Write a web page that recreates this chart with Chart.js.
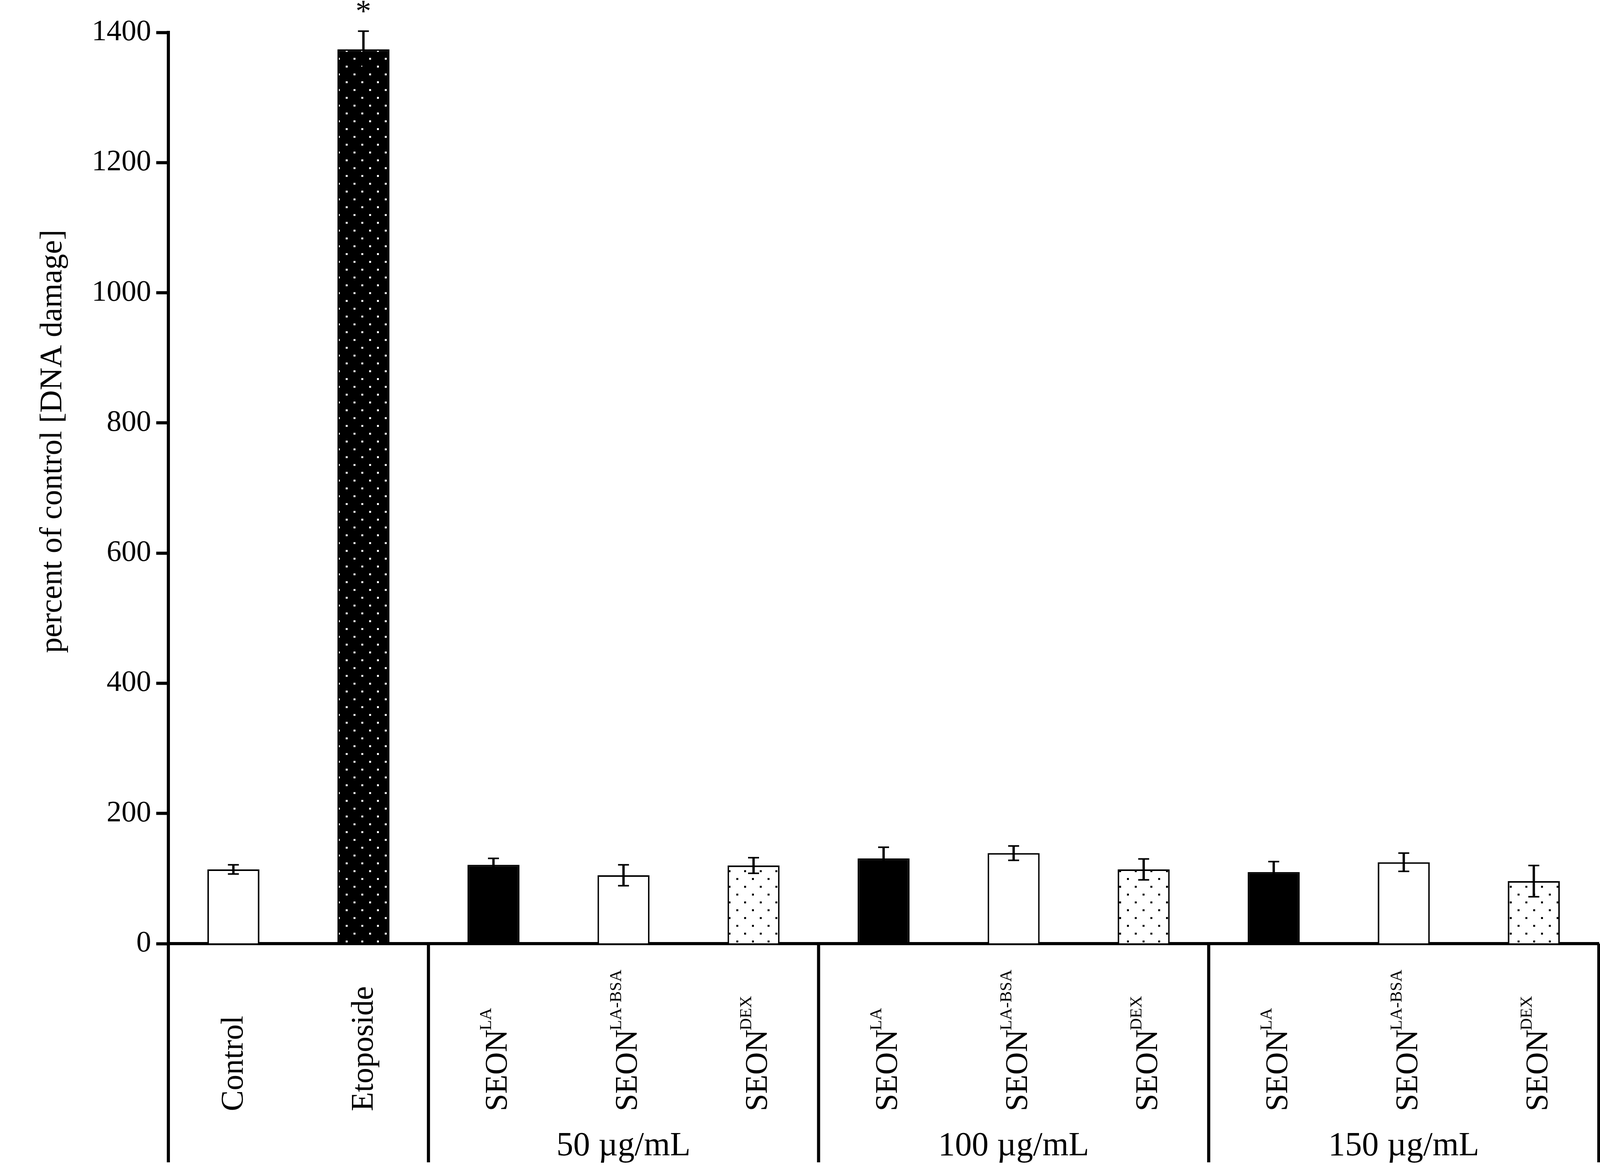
<!DOCTYPE html>
<html>
<head>
<meta charset="utf-8">
<script src="https://cdn.jsdelivr.net/npm/chart.js@4.4.1/dist/chart.umd.min.js"></script>
<style>
html,body{margin:0;padding:0;background:#fff;}
#wrap{width:4168px;height:3011px;position:relative;background:#fff;}
</style>
</head>
<body>
<div id="wrap"><canvas id="c"></canvas></div>
<script>
// ---------- data ----------
const categories = ["Control","Etoposide","SEON LA 50","SEON LA-BSA 50","SEON DEX 50","SEON LA 100","SEON LA-BSA 100","SEON DEX 100","SEON LA 150","SEON LA-BSA 150","SEON DEX 150"];
const labelMain = ["Control","Etoposide","SEON","SEON","SEON","SEON","SEON","SEON","SEON","SEON","SEON"];
const labelSup  = ["","","LA","LA-BSA","DEX","LA","LA-BSA","DEX","LA","LA-BSA","DEX"];
const values = [114,1374,121,105,120,131,139,114,110,125,96];
const errors = [7,28,10,16,12,17,11,16,16,14,24];
const significance = ["","*","","","","","","","","",""];
const fillKinds = ["white","blackDots","black","white","whiteDots","black","white","whiteDots","black","white","whiteDots"];
const groupLabels = ["50 µg/mL","100 µg/mL","150 µg/mL"];
const groupFirst = [2,5,8];
const groupLast  = [4,7,10];
const dividerBounds = [0,2,5,8,11];
const yTicks = [0,200,400,600,800,1000,1200,1400];
const yTickLabels = ["0","200","400","600","800","1000","1200","1400"];
const yTitle = "percent of control [DNA damage]";

// ---------- styling helpers ----------
const FONT = '"Liberation Serif","Times New Roman",Times,serif';

function makePattern(bg, fg){
  const c = document.createElement('canvas');
  c.width = 40; c.height = 40;
  const g = c.getContext('2d');
  g.fillStyle = bg; g.fillRect(0,0,40,40);
  g.fillStyle = fg;
  g.fillRect(5,8,5,5);
  g.fillRect(25,28,5,5);
  return g.createPattern(c,'repeat');
}
const patterns = {
  white: '#ffffff',
  black: '#000000',
  blackDots: makePattern('#000000','#ffffff'),
  whiteDots: makePattern('#ffffff','#000000')
};

function boundaryPixel(xs, b){
  if (b <= 0) return xs.left;
  if (b >= categories.length) return xs.right;
  return (xs.getPixelForValue(b-1) + xs.getPixelForValue(b)) / 2;
}

const decor = {
  id: 'decor',
  afterDatasetsDraw(chart){
    const ctx = chart.ctx, xs = chart.scales.x, ys = chart.scales.y;
    ctx.save();
    ctx.strokeStyle = '#000'; ctx.fillStyle = '#000';
    ctx.lineCap = 'butt';
    values.forEach((v,i)=>{
      const px = xs.getPixelForValue(i);
      const top = ys.getPixelForValue(v + errors[i]);
      const bot = ys.getPixelForValue(v - errors[i]);
      ctx.lineWidth = 6;
      ctx.beginPath(); ctx.moveTo(px, top); ctx.lineTo(px, bot); ctx.stroke();
      ctx.lineWidth = 4;
      ctx.beginPath();
      ctx.moveTo(px-14, top); ctx.lineTo(px+14, top);
      ctx.moveTo(px-14, bot); ctx.lineTo(px+14, bot);
      ctx.stroke();
      if (significance[i]) {
        ctx.font = '80px ' + FONT;
        ctx.textAlign = 'center';
        ctx.textBaseline = 'alphabetic';
        ctx.fillText(significance[i], px, top - 25);
      }
    });
    ctx.restore();
  },
  afterDraw(chart){
    const ctx = chart.ctx, xs = chart.scales.x, ys = chart.scales.y;
    ctx.save();
    ctx.strokeStyle = '#000'; ctx.fillStyle = '#000';
    // group divider lines below the axis
    ctx.lineWidth = 8;
    dividerBounds.forEach(b=>{
      const bx = boundaryPixel(xs, b);
      ctx.beginPath(); ctx.moveTo(bx, ys.bottom); ctx.lineTo(bx, 2976); ctx.stroke();
    });
    // category labels (rotated)
    ctx.textAlign = 'left'; ctx.textBaseline = 'alphabetic';
    labelMain.forEach((m,i)=>{
      const px = xs.getPixelForValue(i);
      const sup = labelSup[i];
      const off = sup ? 34 : 24;
      ctx.save();
      ctx.translate(px + off, 2845);
      ctx.rotate(-Math.PI/2);
      ctx.font = '80px ' + FONT;
      ctx.fillText(m, 0, 0);
      if (sup) {
        const w = ctx.measureText(m).width;
        ctx.font = '43px ' + FONT;
        ctx.fillText(sup, w - 2, -40);
      }
      ctx.restore();
    });
    // group labels
    ctx.font = '86px ' + FONT;
    ctx.textAlign = 'center';
    groupLabels.forEach((g,k)=>{
      const cx = (xs.getPixelForValue(groupFirst[k]) + xs.getPixelForValue(groupLast[k])) / 2;
      ctx.fillText(g, cx, 2958);
    });
    // y axis title
    ctx.save();
    ctx.translate(157, 1130);
    ctx.rotate(-Math.PI/2);
    ctx.font = '80px ' + FONT;
    ctx.textAlign = 'center';
    ctx.fillText(yTitle, 0, 0);
    ctx.restore();
    ctx.restore();
  }
};

new Chart(document.getElementById('c'), {
  type: 'bar',
  data: {
    labels: categories,
    datasets: [{
      data: values,
      backgroundColor: fillKinds.map(k => patterns[k]),
      borderColor: '#000',
      borderWidth: 4,
      barPercentage: 0.4,
      categoryPercentage: 1.0
    }]
  },
  options: {
    responsive: true,
    maintainAspectRatio: false,
    animation: false,
    devicePixelRatio: 1,
    layout: { padding: { top: 83, right: 75, left: 0, bottom: 0 } },
    plugins: { legend: { display: false }, tooltip: { enabled: false } },
    scales: {
      x: {
        type: 'category',
        offset: true,
        grid: { display: false },
        border: { display: true, color: '#000', width: 8 },
        ticks: { display: false },
        afterFit(s){ s.height = 595; }
      },
      y: {
        min: 0, max: 1400,
        afterBuildTicks(s){ s.ticks = yTicks.map(v => ({ value: v })); },
        grid: { drawOnChartArea: false, drawTicks: true, tickLength: 31, tickWidth: 8, color: '#000' },
        border: { display: true, color: '#000', width: 8 },
        ticks: {
          color: '#000', font: { family: FONT, size: 76 }, padding: 13,
          callback(value){ const k = yTicks.indexOf(value); return k >= 0 ? yTickLabels[k] : ''; }
        },
        afterFit(s){ s.width = 431; }
      }
    }
  },
  plugins: [decor]
});
</script>
</body>
</html>
